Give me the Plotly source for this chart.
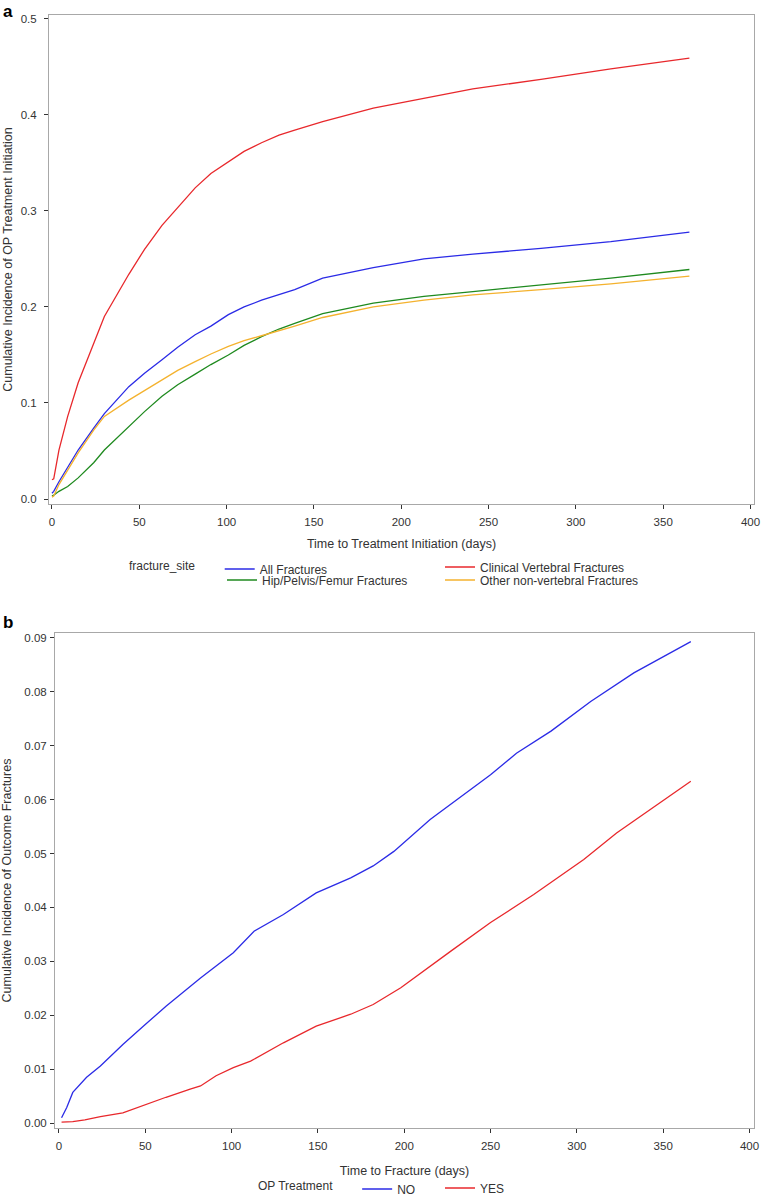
import plotly.graph_objects as go

# ---------------- Panel a data ----------------
days_a = [0, 1, 4, 9, 15, 24, 30, 44, 53, 63, 72, 82, 91, 101, 110, 120, 130, 139,
          155, 184, 213, 241, 280, 320, 365]
all_fractures = [0.006, 0.008, 0.018, 0.033, 0.051, 0.074, 0.089, 0.117, 0.131, 0.145,
                 0.158, 0.171, 0.180, 0.192, 0.200, 0.207, 0.213, 0.218, 0.230, 0.241,
                 0.250, 0.255, 0.261, 0.268, 0.278]
clinical_vertebral = [0.020, 0.021, 0.051, 0.086, 0.121, 0.163, 0.190, 0.234, 0.260, 0.285,
                      0.304, 0.324, 0.339, 0.351, 0.362, 0.371, 0.379, 0.384, 0.393, 0.407,
                      0.417, 0.427, 0.437, 0.448, 0.459]
hip_pelvis_femur = [0.003, 0.004, 0.008, 0.013, 0.022, 0.038, 0.051, 0.075, 0.091, 0.107,
                    0.119, 0.130, 0.140, 0.150, 0.160, 0.169, 0.177, 0.183, 0.193, 0.204,
                    0.211, 0.216, 0.223, 0.230, 0.239]
other_nonvertebral = [0.002, 0.003, 0.015, 0.030, 0.048, 0.072, 0.086, 0.103, 0.113, 0.124,
                      0.134, 0.143, 0.151, 0.159, 0.165, 0.170, 0.175, 0.180, 0.189, 0.200,
                      0.207, 0.2125, 0.218, 0.224, 0.232]
series_a_names = ["All Fractures", "Clinical Vertebral Fractures",
                  "Hip/Pelvis/Femur Fractures", "Other non-vertebral Fractures"]

# ---------------- Panel b data ----------------
days_no = [1.5, 4.5, 8, 16, 24, 37, 49, 62, 82, 101, 113, 130, 149, 169, 182, 194, 215,
           227, 250, 265, 285, 308, 333, 366]
op_no = [0.0010, 0.0029, 0.0057, 0.0085, 0.0106, 0.0146, 0.0180, 0.0217, 0.0269, 0.0316,
         0.0356, 0.0387, 0.0427, 0.0455, 0.0477, 0.0504, 0.0563, 0.0591, 0.0646, 0.0686,
         0.0727, 0.0782, 0.0835, 0.0893]
days_yes = [1.5, 8, 15, 24, 37, 49, 62, 76, 82, 91, 101, 111, 130, 149, 169, 182, 198,
            227, 250, 275, 304, 323, 342, 366]
op_yes = [0.0002, 0.0003, 0.0006, 0.0012, 0.0019, 0.0033, 0.0048, 0.0063, 0.0069, 0.0088,
          0.0103, 0.0115, 0.0149, 0.0180, 0.0202, 0.0220, 0.0251, 0.0319, 0.0372, 0.0424,
          0.0489, 0.0538, 0.0581, 0.0634]
series_b_names = ["NO", "YES"]

x_ticks = [0, 50, 100, 150, 200, 250, 300, 350, 400]
y_ticks_a = [0.0, 0.1, 0.2, 0.3, 0.4, 0.5]
y_ticks_b = [0.00, 0.01, 0.02, 0.03, 0.04, 0.05, 0.06, 0.07, 0.08, 0.09]

BLUE = "#2b2be6"
RED = "#e8282c"
GREEN = "#1f8a1f"
ORANGE = "#f4b22e"
FONT = "Liberation Sans, Arial, sans-serif"
TXT = "#333333"
FRAME = "#a8a8a8"
TICK_SIZE = 11.5
TITLE_SIZE = 12.5
LEG_SIZE = 12
W, H = 761, 1197

fig = go.Figure()
a_series = [all_fractures, clinical_vertebral, hip_pelvis_femur, other_nonvertebral]
a_colors = [BLUE, RED, GREEN, ORANGE]
a_legends = ["legend", "legend3", "legend4", "legend5"]
for name, vals, col, lg in zip(series_a_names, a_series, a_colors, a_legends):
    fig.add_trace(go.Scatter(x=days_a, y=vals, mode="lines", name=name,
                             line=dict(color=col, width=1.3), showlegend=True,
                             xaxis="x", yaxis="y", legend=lg))

fig.add_trace(go.Scatter(x=days_no, y=op_no, mode="lines", name=series_b_names[0],
                         line=dict(color=BLUE, width=1.3), showlegend=True,
                         xaxis="x2", yaxis="y2", legend="legend2"))
fig.add_trace(go.Scatter(x=days_yes, y=op_yes, mode="lines", name=series_b_names[1],
                         line=dict(color=RED, width=1.3), showlegend=True,
                         xaxis="x2", yaxis="y2", legend="legend6"))

axis_common = dict(showline=True, mirror=True, linecolor=FRAME, linewidth=1,
                   ticks="outside", ticklen=4, tickcolor=TXT, tickwidth=1,
                   showgrid=False, zeroline=False, automargin=False,
                   tickfont=dict(family=FONT, size=TICK_SIZE, color=TXT))
title_font = dict(family=FONT, size=TITLE_SIZE, color=TXT)
leg_font = dict(family=FONT, size=LEG_SIZE, color=TXT)


def leg(xpx, ypx, title=None):
    d = dict(orientation="h", x=xpx / W, xanchor="left", y=1 - ypx / H, yanchor="middle",
             font=leg_font, itemwidth=30, bgcolor="rgba(0,0,0,0)", borderwidth=0,
             visible=True)
    if title:
        d["title"] = dict(text=title, side="left", font=leg_font)
    return d


fig.update_layout(
    width=W, height=H,
    showlegend=True,
    margin=dict(l=0, r=0, t=0, b=0, autoexpand=False),
    paper_bgcolor="white", plot_bgcolor="white",
    font=dict(family=FONT, size=LEG_SIZE, color=TXT),
    xaxis=dict(**axis_common, domain=[49/W, 754/W], range=[-1.7, 402],
               tickvals=x_ticks, anchor="y", ticklabelstandoff=3,
               title=dict(text="Time to Treatment Initiation (days)", standoff=12,
                          font=title_font)),
    yaxis=dict(**axis_common, domain=[1-504/H, 1-15/H], range=[-0.0052, 0.504],
               tickvals=y_ticks_a, tickformat=".1f", anchor="x", ticklabelstandoff=5,
               title=dict(text="Cumulative Incidence of OP Treatment Initiation", standoff=5,
                          font=title_font)),
    xaxis2=dict(**axis_common, domain=[55/W, 754/W], range=[-2.3, 402.6],
                tickvals=x_ticks, anchor="y2", ticklabelstandoff=3,
                title=dict(text="Time to Fracture (days)", standoff=15,
                           font=title_font)),
    yaxis2=dict(**axis_common, domain=[1-1128/H, 1-633/H], range=[-0.0009, 0.0909],
                tickvals=y_ticks_b, tickformat=".2f", anchor="x2", ticklabelstandoff=1,
                title=dict(text="Cumulative Incidence of Outcome Fractures", standoff=9,
                           font=title_font)),
    legend=leg(127, 569, "fracture_site     "),
    legend3=leg(440, 567),
    legend4=leg(222, 580),
    legend5=leg(440, 580),
    legend2=leg(256, 1189, "OP Treatment     "),
    legend6=leg(440, 1188),
    annotations=[
        dict(text="<b>a</b>", x=1/W, y=1.0, xref="paper", yref="paper",
             xanchor="left", yanchor="top", showarrow=False,
             font=dict(family=FONT, size=17, color="black")),
        dict(text="<b>b</b>", x=1/W, y=1-611/H, xref="paper", yref="paper",
             xanchor="left", yanchor="top", showarrow=False,
             font=dict(family=FONT, size=17, color="black")),
    ],
)

fig.write_html(
    "out.html",
    config={"displayModeBar": False},
    post_script=("document.documentElement.style.margin='0';"
                 "document.documentElement.style.padding='0';"
                 "document.documentElement.style.overflow='hidden';"
                 "document.body.style.margin='0';"
                 "document.body.style.padding='0';"
                 "document.body.style.overflow='hidden';"),
)
